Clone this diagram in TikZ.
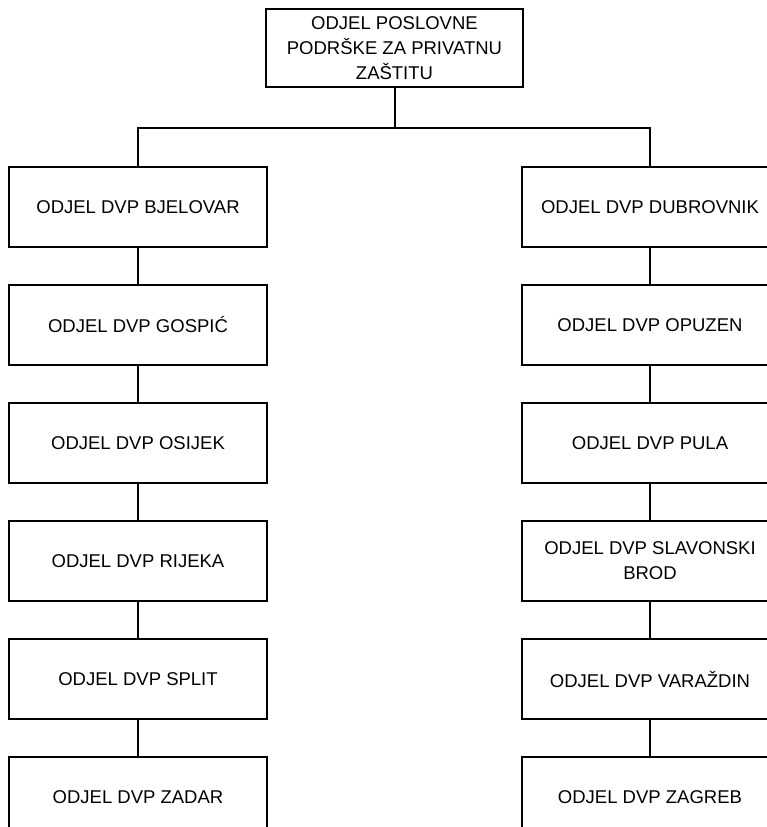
\documentclass[tikz,border=0pt]{standalone}
\usepackage{fontspec}
\setmainfont{Liberation Sans}
\tikzset{
  odjel/.style={draw, line width=1pt, minimum width=129pt, minimum height=40pt,
    align=center, inner sep=2pt, font=\fontsize{9.25}{12.5}\selectfont},
  veza/.style={line width=1pt}
}
\begin{document}
\begin{tikzpicture}[x=0.5pt, y=-0.5pt]
  \useasboundingbox (0,0) rectangle (767,827);
  \clip (0,0) rectangle (767,827);
  \node[odjel, minimum width=128.5pt, minimum height=39pt] (uprava) at (394.5,48)
    {ODJEL POSLOVNE\\PODRŠKE ZA PRIVATNU\\ZAŠTITU};
  \coordinate (sabirnica) at (394.5,128);
  % lijevi stupac
  \node[odjel] (bjelovar) at (138,207) {ODJEL DVP BJELOVAR};
  \node[odjel] (gospic) at (138,325) {ODJEL DVP GOSPIĆ};
  \node[odjel] (osijek) at (138,443) {ODJEL DVP OSIJEK};
  \node[odjel] (rijeka) at (138,561) {ODJEL DVP RIJEKA};
  \node[odjel] (split) at (138,679) {ODJEL DVP SPLIT};
  \node[odjel] (zadar) at (138,797) {ODJEL DVP ZADAR};
  % desni stupac
  \node[odjel, minimum width=128pt] (dubrovnik) at (650,207) {ODJEL DVP DUBROVNIK};
  \node[odjel, minimum width=128pt] (opuzen) at (650,325) {ODJEL DVP OPUZEN};
  \node[odjel, minimum width=128pt] (pula) at (650,443) {ODJEL DVP PULA};
  \node[odjel, minimum width=128pt] (slbrod) at (650,561) {ODJEL DVP SLAVONSKI\\BROD};
  \node[odjel, minimum width=128pt] (varazdin) at (650,679) {ODJEL DVP VARAŽDIN};
  \node[odjel, minimum width=128pt] (zagreb) at (650,797) {ODJEL DVP ZAGREB};
  \draw[veza] (uprava.south) -- (sabirnica);
  \draw[veza] (sabirnica) -| (bjelovar.north);
  \draw[veza] (sabirnica) -| (dubrovnik.north);
  \foreach \a/\b in {bjelovar/gospic, gospic/osijek, osijek/rijeka, rijeka/split, split/zadar,
    dubrovnik/opuzen, opuzen/pula, pula/slbrod, slbrod/varazdin, varazdin/zagreb}
    \draw[veza] (\a.south) -- (\b.north);
\end{tikzpicture}
\end{document}
